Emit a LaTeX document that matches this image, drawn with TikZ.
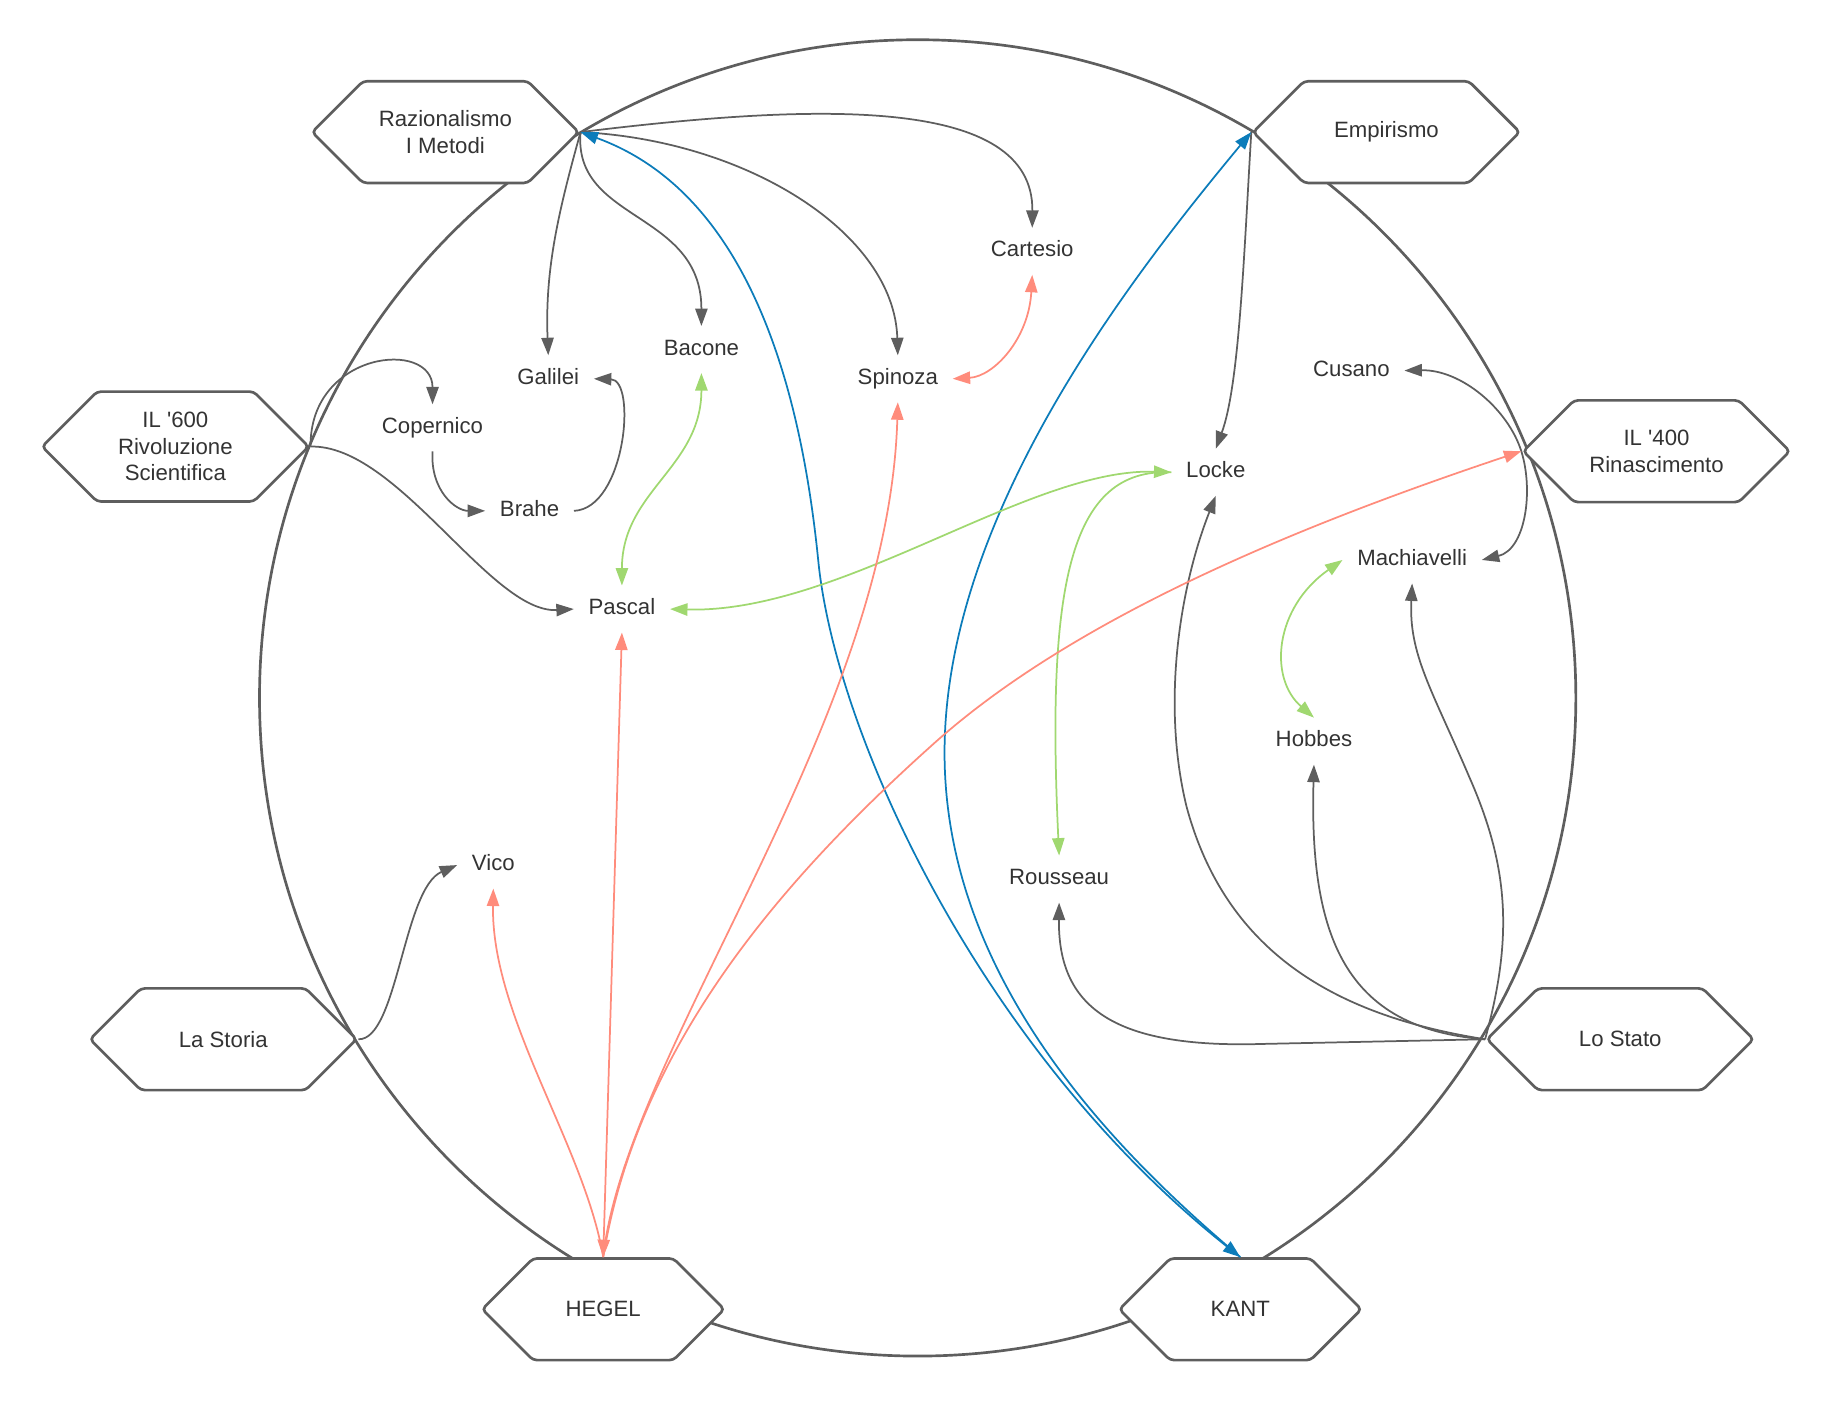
\documentclass[tikz,border=0pt]{standalone}
\usepackage{fontspec}
\setmainfont{Liberation Sans}
\usetikzlibrary{arrows.meta}
\usetikzlibrary{shapes.symbols}

\definecolor{linegray}{HTML}{5E5E5E}
\definecolor{textgray}{HTML}{333333}
\definecolor{linkblue}{HTML}{0C7CBA}
\definecolor{linksalmon}{HTML}{FF8C7C}
\definecolor{linkgreen}{HTML}{A0D870}

\begin{document}
\begin{tikzpicture}[x=0.2mm, y=-0.2mm,
  every node/.style={font=\fontsize{10.8}{13}\selectfont, text=textgray},
  epoch/.style={signal, signal to=east and west, signal pointer angle=90, draw=linegray, line width=1.3pt, fill=white, rounded corners=2pt, minimum width=4.56cm, minimum height=1.74cm, align=center, inner sep=2pt},
  thinker/.style={inner xsep=7pt, inner ysep=6pt, text height=8pt, text depth=2.5pt},
  ring/.style={draw=linegray, line width=1.3pt},
  link/.style={line width=0.85pt, draw=linegray, ->, >={Triangle[length=8.5pt, width=6pt]}},
  blue link/.style={link, draw=linkblue},
  salmon link/.style={link, draw=linksalmon},
  green link/.style={link, draw=linkgreen}]
\useasboundingbox (0,0) rectangle (1568,1198);
\coordinate (mid) at (785,597);
\draw [ring] (mid) circle [radius=11.26cm];

\node [epoch] (raz) at (381,113) {Razionalismo\\I Metodi};
\node [epoch] (emp) at (1186,113) {Empirismo};
\node [epoch, minimum height=1.88cm] (sei) at (150,382) {IL \textquotesingle 600\\Rivoluzione\\Scientifica};
\node [epoch] (quattro) at (1417,386) {IL \textquotesingle 400\\Rinascimento};
\node [epoch] (storia) at (191,889) {La Storia};
\node [epoch] (stato) at (1386,889) {Lo Stato};
\node [epoch, minimum width=4.14cm] (hegel) at (516,1120) {HEGEL};
\node [epoch, minimum width=4.14cm] (kant) at (1061,1120) {KANT};

\node [thinker] (cartesio) at (883,215) {Cartesio};
\node [thinker] (bacone) at (600,299) {Bacone};
\node [thinker] (galilei) at (469,324) {Galilei};
\node [thinker] (spinoza) at (768,324) {Spinoza};
\node [thinker] (copernico) at (370,366) {Copernico};
\node [thinker] (brahe) at (453,437) {Brahe};
\node [thinker] (pascal) at (532,521) {Pascal};
\node [thinker] (vico) at (422,740) {Vico};
\node [thinker] (cusano) at (1156,317) {Cusano};
\node [thinker] (locke) at (1040,404) {Locke};
\node [thinker] (machiavelli) at (1208,479) {Machiavelli};
\node [thinker] (hobbes) at (1124,634) {Hobbes};
\node [thinker] (rousseau) at (906,752) {Rousseau};

\draw [link] (raz.east) .. controls (700,88) and (884,82) .. (cartesio.north);
\draw [link] (raz.east) .. controls (478,180) and (466,230) .. (galilei.north);
\draw [link] (raz.east) .. controls (490,190) and (600,180) .. (bacone.north);
\draw [link] (raz.east) .. controls (640,120) and (765,200) .. (spinoza.north);
\draw [link] (emp.west) .. controls (1064,220) and (1060,330) .. (locke.north);
\draw [link] (sei.east) .. controls (265,300) and (370,290) .. (copernico.north);
\draw [link] (sei.east) .. controls (340,380) and (420,525) .. (pascal.west);
\draw [link] (copernico.south) .. controls (368,420) and (390,437) .. (brahe.west);
\draw [link] (brahe.east) .. controls (535,435) and (545,325) .. (galilei.east);
\draw [link] (storia.east) .. controls (340,890) and (345,760) .. (vico.west);
\draw [link] (quattro.west) .. controls (1290,350) and (1250,316) .. (cusano.east);
\draw [link] (quattro.west) .. controls (1312,420) and (1305,470) .. (machiavelli.east);
\draw [link] (stato.west) .. controls (1150,870) and (1050,820) .. (1015,690) .. controls (993,600) and (1010,500) .. (locke.south);
\draw [link] (stato.west) .. controls (1150,880) and (1120,800) .. (hobbes.south);
\draw [link] (stato.west) .. controls (1295,800) and (1290,740) .. (1257,665) .. controls (1225,590) and (1205,560) .. (machiavelli.south);
\draw [link] (stato.west) -- (1080,893) .. controls (950,897) and (905,860) .. (rousseau.south);

\draw [blue link, <->] (raz.east) .. controls (640,165) and (685,330) .. (700,480) .. controls (715,630) and (840,900) .. (kant.north);
\draw [blue link] (kant.north) .. controls (960,990) and (806,840) .. (808,640) .. controls (810,440) and (965,240) .. (emp.west);

\draw [green link, <->] (bacone.south) .. controls (600,400) and (532,420) .. (pascal.north);
\draw [green link, <->] (locke.west) .. controls (880,400) and (720,525) .. (pascal.east);
\draw [green link] (locke.west) .. controls (915,400) and (895,500) .. (rousseau.north);
\draw [green link, <->] (machiavelli.west) .. controls (1090,520) and (1085,580) .. (hobbes.north);

\draw [salmon link, <->] (cartesio.south) .. controls (880,290) and (850,322) .. (spinoza.east);
\draw [salmon link, <->] (hegel.north) -- (pascal.south);
\draw [salmon link] (hegel.north) .. controls (500,980) and (420,870) .. (vico.south);
\draw [salmon link] (hegel.north) .. controls (535,900) and (760,620) .. (spinoza.south);
\draw [salmon link] (hegel.north) .. controls (545,900) and (660,760) .. (800,635) .. controls (920,528) and (1110,450) .. (quattro.west);
\end{tikzpicture}
\end{document}
